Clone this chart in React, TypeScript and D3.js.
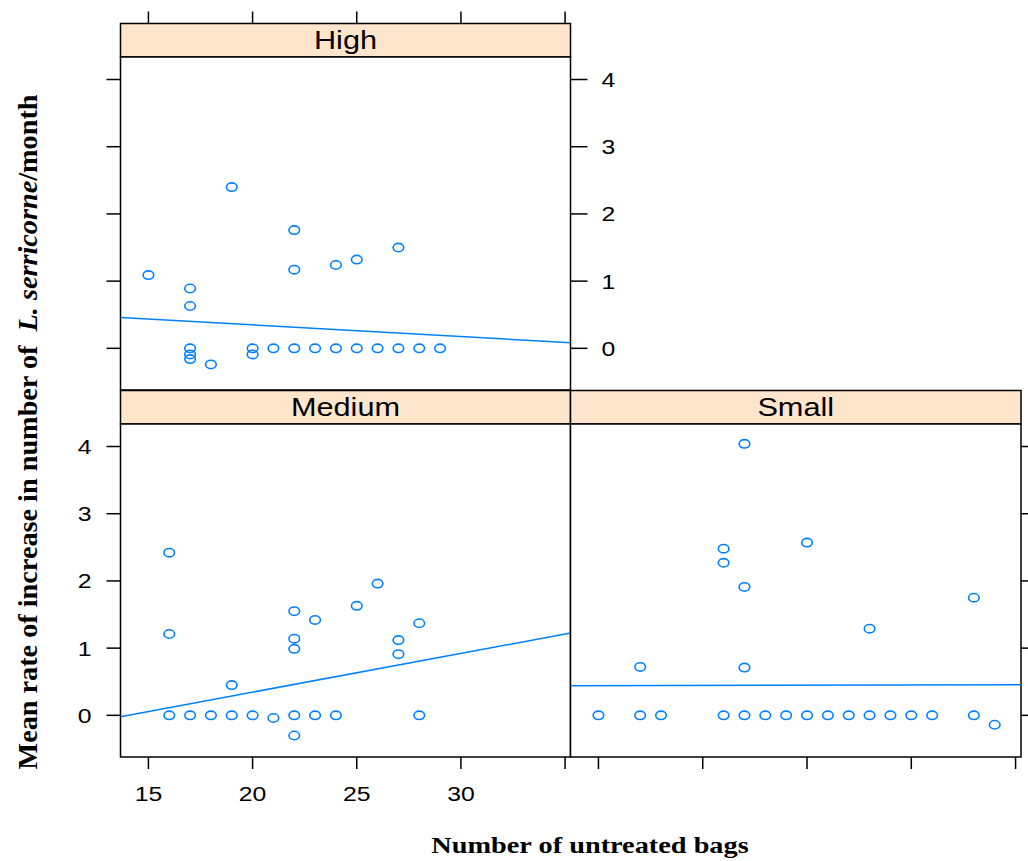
import React from "react";
import * as d3 from "d3";

// ---- Data ----
const panelNames = ["High", "Medium", "Small"];

const highX = [15, 17, 17, 17, 17, 17, 18, 19, 20, 20, 21, 22, 22, 22, 23, 24, 24, 25, 25, 26, 27, 27, 28, 29];
const highY = [1.09, 0.89, 0.63, 0, -0.09, -0.16, -0.24, 2.4, 0, -0.09, 0, 1.76, 1.17, 0, 0, 1.24, 0, 1.32, 0, 0, 1.5, 0, 0, 0];

const mediumX = [16, 16, 16, 17, 18, 19, 19, 20, 21, 22, 22, 22, 22, 22, 23, 23, 24, 25, 26, 27, 27, 28, 28];
const mediumY = [2.42, 1.21, 0, 0, 0, 0.45, 0, 0, -0.04, 1.55, 1.14, 0.99, 0, -0.3, 1.42, 0, 0, 1.63, 1.96, 1.12, 0.91, 1.37, 0];

const smallX = [15, 17, 18, 21, 22, 23, 24, 25, 26, 27, 28, 29, 30, 31, 33, 34, 22, 21, 21, 22, 25, 17, 22, 28, 33];
const smallY = [0, 0, 0, 0, 0, 0, 0, 0, 0, 0, 0, 0, 0, 0, 0, -0.14, 4.04, 2.48, 2.27, 1.91, 2.57, 0.72, 0.71, 1.29, 1.75];

// linear fit: [intercept, slope]
const highFit = [0.698, -0.01745];
const mediumFit = [-0.807, 0.0576];
const smallFit = [0.43, 0.0007];

const xTicks = [15, 20, 25, 30, 35];
const xTickLabels = ["15", "20", "25", "30", ""];
const yTicks = [0, 1, 2, 3, 4];

const xDomain = [13.66, 35.26];
const yDomain = [-0.62, 4.335];

const BLUE = "#0080ff";
const STRIP = "#ffe5cc";
const SX = 1.18; // horizontal stretch of text

type Panel = {
  name: string;
  xs: number[];
  ys: number[];
  fit: number[];
  left: number;
  right: number;
  top: number;
  bottom: number;
};

const panels: Panel[] = [
  { name: panelNames[0], xs: highX, ys: highY, fit: highFit, left: 120.5, right: 570.5, top: 57, bottom: 390 },
  { name: panelNames[1], xs: mediumX, ys: mediumY, fit: mediumFit, left: 120.5, right: 570.5, top: 424, bottom: 757 },
  { name: panelNames[2], xs: smallX, ys: smallY, fit: smallFit, left: 570.5, right: 1021, top: 424, bottom: 757 },
];

const STRIP_H = 33.5;
const TICK = 12;
const sans = "'Liberation Sans', Arial, sans-serif";
const serif = "'Liberation Serif', 'Times New Roman', serif";

function SText(props: { x: number; y: number; anchor?: string; size: number; children: any; family?: string; weight?: string }) {
  return (
    <g transform={`translate(${props.x},${props.y}) scale(${SX},1)`}>
      <text
        x={0}
        y={0}
        textAnchor={props.anchor || "middle"}
        fontSize={props.size}
        fontFamily={props.family || sans}
        fontWeight={props.weight || "normal"}
        fill="#000"
      >
        {props.children}
      </text>
    </g>
  );
}

function PanelView({ p, idx }: { p: Panel; idx: number }) {
  const x = d3.scaleLinear().domain(xDomain).range([p.left, p.right]);
  const y = d3.scaleLinear().domain(yDomain).range([p.bottom, p.top]);
  const line = d3
    .line<number>()
    .x((d) => x(d))
    .y((d) => y(p.fit[0] + p.fit[1] * d));
  const clipId = `clip-${idx}`;
  return (
    <g>
      <defs>
        <clipPath id={clipId}>
          <rect x={p.left} y={p.top} width={p.right - p.left} height={p.bottom - p.top} />
        </clipPath>
      </defs>
      {/* strip */}
      <rect
        x={p.left}
        y={p.top - STRIP_H}
        width={p.right - p.left}
        height={STRIP_H}
        fill={STRIP}
        stroke="#000"
        strokeWidth={1.5}
      />
      <SText x={(p.left + p.right) / 2} y={p.top - 8} size={26}>
        {p.name}
      </SText>
      {/* panel */}
      <rect x={p.left} y={p.top} width={p.right - p.left} height={p.bottom - p.top} fill="#fff" stroke="#000" strokeWidth={1.5} />
      <g clipPath={`url(#${clipId})`}>
        <path d={line(xDomain) || ""} fill="none" stroke={BLUE} strokeWidth={1.5} />
        {p.xs.map((xv, i) => (
          <ellipse key={i} cx={x(xv)} cy={y(p.ys[i])} rx={5.3} ry={4.2} fill="none" stroke={BLUE} strokeWidth={1.6} />
        ))}
      </g>
      {/* axes */}
      {idx === 0 && (
        <g>
          {xTicks.map((t) => (
            <line key={"t" + t} x1={x(t)} x2={x(t)} y1={p.top - STRIP_H} y2={p.top - STRIP_H - TICK} stroke="#000" strokeWidth={1.5} />
          ))}
          {yTicks.map((t) => (
            <g key={"y" + t}>
              <line x1={p.left} x2={p.left - 14} y1={y(t)} y2={y(t)} stroke="#000" strokeWidth={1.5} />
              <line x1={p.right} x2={p.right + 17} y1={y(t)} y2={y(t)} stroke="#000" strokeWidth={1.5} />
              <SText x={p.right + 31} y={y(t) + 7.5} anchor="start" size={21}>
                {String(t)}
              </SText>
            </g>
          ))}
        </g>
      )}
      {idx === 1 && (
        <g>
          {xTicks.map((t, i) => (
            <g key={"b" + t}>
              <line x1={x(t)} x2={x(t)} y1={p.bottom} y2={p.bottom + TICK} stroke="#000" strokeWidth={1.5} />
              <SText x={x(t)} y={p.bottom + 44} size={21}>
                {xTickLabels[i]}
              </SText>
            </g>
          ))}
          {yTicks.map((t) => (
            <g key={"l" + t}>
              <line x1={p.left} x2={p.left - 14} y1={y(t)} y2={y(t)} stroke="#000" strokeWidth={1.5} />
              <SText x={p.left - 29} y={y(t) + 7.5} anchor="end" size={21}>
                {String(t)}
              </SText>
            </g>
          ))}
        </g>
      )}
      {idx === 2 && (
        <g>
          {xTicks.map((t) => (
            <line key={"s" + t} x1={x(t)} x2={x(t)} y1={p.bottom} y2={p.bottom + TICK} stroke="#000" strokeWidth={1.5} />
          ))}
          {yTicks.map((t) => (
            <line key={"r" + t} x1={p.right} x2={p.right + 14} y1={y(t)} y2={y(t)} stroke="#000" strokeWidth={1.5} />
          ))}
        </g>
      )}
    </g>
  );
}

export default function App() {
  return (
    <svg
      width={1028}
      height={861}
      style={{ position: "absolute", left: 0, top: 0, display: "block", background: "#fff" }}
    >
      <rect x={0} y={0} width={1028} height={861} fill="#fff" />
      {panels.map((p, i) => (
        <PanelView key={p.name} p={p} idx={i} />
      ))}
      {/* x title */}
      <SText x={590} y={853} size={24} family={serif} weight="bold">
        Number of untreated bags
      </SText>
      {/* y title */}
      <g transform={`translate(37,432) scale(${SX},1) rotate(-90)`}>
        <text x={0} y={0} textAnchor="middle" fontSize={24} fontFamily={serif} fontWeight="bold" fill="#000" textLength={675} lengthAdjust="spacingAndGlyphs">
          Mean rate of increase in number of{"\u00a0\u00a0"}
          <tspan fontStyle="italic">L. serricorne</tspan>/month
        </text>
      </g>
    </svg>
  );
}
